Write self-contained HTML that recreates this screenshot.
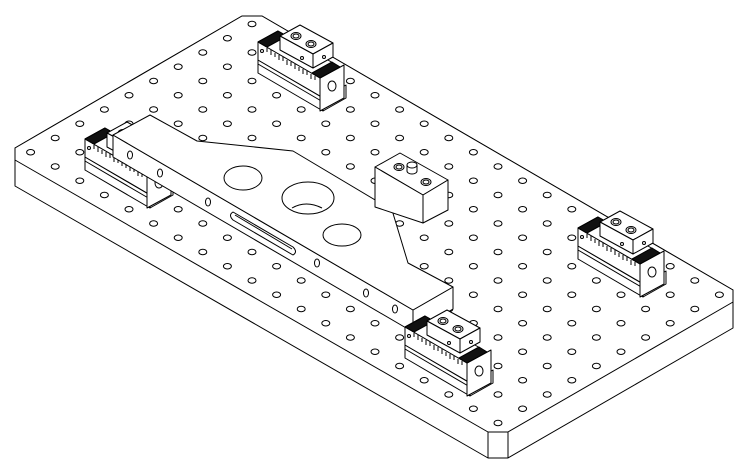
<!DOCTYPE html>
<html><head><meta charset="utf-8"><style>
html,body{margin:0;padding:0;background:#fff;width:750px;height:474px;overflow:hidden}
svg{display:block}
</style></head><body>
<svg id="s" width="750" height="474" viewBox="0 0 750 474" xmlns="http://www.w3.org/2000/svg" fill="#fff" stroke="#000" stroke-width="1" stroke-linejoin="round">
<defs>
<g id="vise">
  <polygon points="18,48 83,86 83,99 18,61"/>
  <path d="M18,52 L83,90" fill="none"/>
  <polygon points="83,86 106,73 106,86 83,99"/>
  <polygon points="18,30 18,48 80,84 80,66"/>
  <polygon points="18,30 38,19 100,55 80,66"/>
  <polygon points="80,66 104,53 104,86 80,99"/>
  <polygon points="18,30 38,19 47,24 27,35" fill="#111"/>
  <polygon points="72,61 92,50 100,55 80,66" fill="#111"/>
  <path d="M27,36 l0,4 M31,38 l0,5 M35,41 l0,4 M39,43 l0,5 M43,45 l0,4 M47,48 l0,5 M51,50 l0,4 M55,52 l0,5 M59,55 l0,4 M63,57 l0,5 M67,59 l0,4 M71,62 l0,5 M75,64 l0,4" fill="none"/>
  <ellipse cx="92" cy="74" rx="4" ry="5"/>
  <circle cx="22" cy="39" r="1.5"/>
  <polygon points="40,24 60,13 93,31 73,42"/>
  <polygon points="40,24 73,42 73,56 40,38"/>
  <polygon points="73,42 93,31 93,45 73,56"/>
  <ellipse cx="56" cy="24" rx="5" ry="3.5"/><ellipse cx="56" cy="24" rx="3" ry="2"/>
  <ellipse cx="71" cy="32" rx="5" ry="3.5"/><ellipse cx="71" cy="32" rx="3" ry="2"/>
  <circle cx="62" cy="46" r="1.5"/><circle cx="84" cy="45" r="1.5"/>
</g>
</defs>
<!-- plate -->
<polygon points="15,148 15,186 488,458 508,458 733,328 733,290 262,16 242,16"/>
<polygon points="15,148 242,16 262,16 733,290 733,302 508,432 488,432 15,160"/>
<line x1="488" y1="432" x2="488" y2="458"/><line x1="508" y1="432" x2="508" y2="458"/>
<g id="holes"></g>
<!-- vises behind -->
<use href="#vise" transform="translate(240,12)"/>
<use href="#vise" transform="translate(67,109)"/>
<!-- part -->
<polygon points="113,135 413,310 413,332 113,157"/>
<polygon points="413,310 453,287 453,309 413,332"/>
<polygon points="150,115 197,141 293,151 392,210 408,263 453,287 413,310 113,135"/>
<ellipse cx="243" cy="178" rx="19" ry="12"/>
<ellipse cx="308" cy="198" rx="26" ry="16"/>
<path d="M292,208 q14,-8 30,0" fill="none"/>
<ellipse cx="342" cy="235" rx="19" ry="11"/>
<path d="M233,212 L293,247 Q298,252 293,255 L233,220 Q228,215 233,212 Z"/>
<path d="M235,215 L292,249" fill="none"/>
<ellipse cx="130" cy="155" rx="2.5" ry="4"/><ellipse cx="160" cy="173" rx="2.5" ry="4"/>
<ellipse cx="208" cy="202" rx="2.5" ry="4"/><ellipse cx="317" cy="263" rx="2.5" ry="4"/>
<ellipse cx="366" cy="293" rx="2.5" ry="4"/><ellipse cx="395" cy="309" rx="2.5" ry="4"/>
<!-- block -->
<polygon points="375,167 400,153 448,180 423,195"/>
<polygon points="375,167 423,195 423,223 375,207"/>
<polygon points="423,195 448,180 448,210 423,223"/>
<ellipse cx="399" cy="167" rx="5" ry="3.5"/><ellipse cx="399" cy="167" rx="3" ry="2"/>
<ellipse cx="426" cy="182" rx="5" ry="3.5"/><ellipse cx="426" cy="182" rx="3" ry="2"/>
<path d="M407,165 v6 a5,3 0 0 0 10,0 v-6" />
<ellipse cx="412" cy="165" rx="5" ry="3"/>
<!-- front vises -->
<use href="#vise" transform="translate(560,198)"/>
<use href="#vise" transform="translate(387,297)"/>
</svg>
<script>
var g=document.getElementById('holes'),ns='http://www.w3.org/2000/svg';
for(var i=0;i<20;i++)for(var j=0;j<10;j++){
var e=document.createElementNS(ns,'ellipse');
e.setAttribute('cx',252+24.6*(i-j));e.setAttribute('cy',24+14.25*(i+j));
e.setAttribute('rx',4);e.setAttribute('ry',2.7);g.appendChild(e);}
</script>
</body></html>
